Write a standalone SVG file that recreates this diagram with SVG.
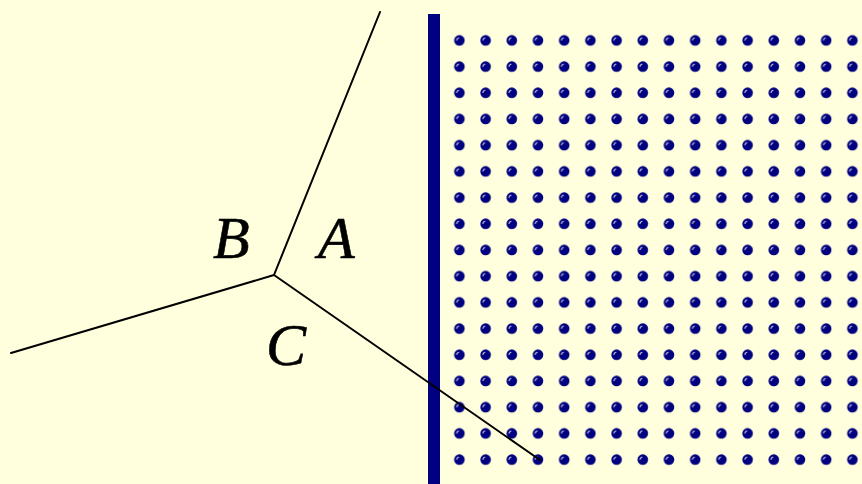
<svg xmlns="http://www.w3.org/2000/svg" width="862" height="484" viewBox="0 0 862 484">
<style>
.lbl{font-family:"Liberation Serif","Times New Roman",serif;font-style:italic;font-size:60px;fill:#000;stroke:#000;stroke-width:0.6}
.edge{stroke:#000;stroke-width:2;fill:none;stroke-linecap:round}
</style>
<defs>
<pattern id="dots" patternUnits="userSpaceOnUse" x="446" y="27" width="26.2" height="26.2">
<circle cx="13.4" cy="13.4" r="5.3" fill="#000080"/>
<path d="M10.6 13.6 A2.8 2.8 0 0 1 13 10.9" stroke="#c8c8e0" stroke-width="1" fill="none"/>
</pattern>
</defs>
<rect width="862" height="484" fill="#FFFFDD"/>
<g id="grid">
<rect x="446" y="27" width="419.2" height="445.4" fill="url(#dots)"/>
</g>
<g id="wall">
<rect x="428" y="14" width="12" height="470" fill="#000080"/>
</g>
<g id="connectors">
<line class="edge" x1="274" y1="275" x2="380" y2="12"/>
<line class="edge" x1="274" y1="275" x2="11" y2="353"/>
<line class="edge" x1="274" y1="275" x2="540" y2="460"/>
</g>
<g id="labelB"><text class="lbl" x="213" y="258">B</text></g>
<g id="labelA"><text class="lbl" x="318" y="258">A</text></g>
<g id="labelC"><text class="lbl" x="266" y="365">C</text></g>
</svg>
